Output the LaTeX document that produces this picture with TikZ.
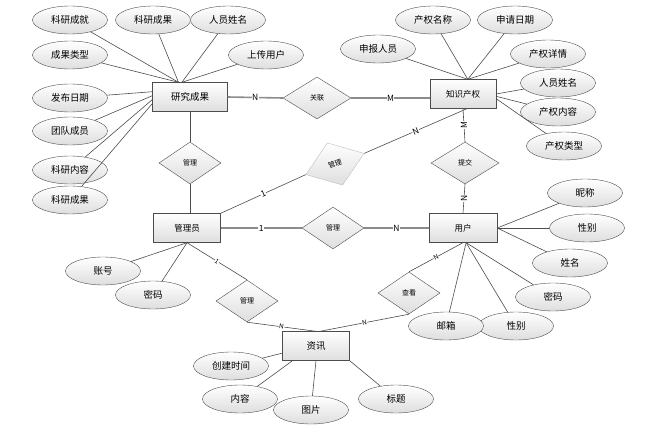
\documentclass[tikz,border=0pt]{standalone}
\usepackage{fontspec}
\setmainfont{Noto Sans CJK SC}
\usetikzlibrary{shapes.geometric}

\begin{document}
\begin{tikzpicture}[x=1pt, y=-1pt,
    entity/.style={draw=black!70, rectangle, minimum width=67pt, minimum height=29pt, inner sep=0pt, top color=white, bottom color=black!13, font=\fontsize{8.5}{10}\selectfont},
    attr/.style={draw=black!70, ellipse, minimum width=75pt, minimum height=28pt, inner sep=0pt, top color=white, bottom color=black!13, font=\fontsize{9.5}{11}\selectfont},
    rel/.style={draw=black!70, diamond, minimum width=62pt, minimum height=42pt, inner sep=0pt, top color=white, bottom color=black!13, font=\fontsize{7}{8}\selectfont},
    conn/.style={draw=black!70, line width=0.6pt},
    heavy/.style={draw=black!45, line width=1.6pt},
    card/.style={fill=white, inner sep=0.5pt, font=\fontsize{8.5}{9}\selectfont},
    smallcard/.style={fill=white, inner sep=0.3pt, font=\fontsize{6.5}{7}\selectfont}]

    \useasboundingbox (0,0) rectangle (657,431);

    % Entities
    \node[entity, minimum width=75pt, font=\fontsize{9.5}{11}\selectfont] (res) at (190,97) {研究成果};
    \node[entity, minimum width=66pt] (ip) at (463,94) {知识产权};
    \node[entity] (admin) at (187,228) {管理员};
    \node[entity, minimum width=68pt] (user) at (463,228) {用户};
    \node[entity, font=\fontsize{9.5}{11}\selectfont] (news) at (316,346) {资讯};

    % Relationships
    \node[rel, minimum width=68pt] (relLink) at (317,98) {关联};
    \node[rel] (relManRes) at (190,163) {管理};
    \node[rel, draw=black!25, minimum height=45pt, rotate=20] (relManIp) at (335,164) {管理};
    \node[rel, minimum width=68pt] (relSubmit) at (465,163) {提交};
    \node[rel] (relManUser) at (333,228) {管理};
    \node[rel] (relManNews) at (247,301) {管理};
    \node[rel] (relView) at (409,293) {查看};

    % Attributes of 研究成果
    \foreach \n/\x/\y/\t in {a1/70/20/科研成就, a2/153/20/科研成果, a3/228/20/人员姓名,
        a4/70/55/成果类型, a5/266/55/上传用户, a6/70/98/发布日期, a7/70/131/团队成员,
        a8/70/170/科研内容, a9/70/200/科研成果} {
        \node[attr] (\n) at (\x,\y) {\t};
    }
    % Attributes of 知识产权
    \foreach \n/\x/\y/\t in {b1/433/20/产权名称, b2/515/20/申请日期, b3/378/49/申报人员,
        b4/548/54/产权详情, b5/558/83/人员姓名, b6/558/112/产权内容, b7/564/146/产权类型} {
        \node[attr] (\n) at (\x,\y) {\t};
    }
    % Attributes of 用户
    \foreach \n/\x/\y/\t in {c1/585/193/昵称, c2/587/228/性别, c3/570/263/姓名,
        c4/553/297/密码, c6/516/326/性别, c5/446/326/邮箱} {
        \node[attr] (\n) at (\x,\y) {\t};
    }
    % Attributes of 管理员 and 资讯
    \foreach \n/\x/\y/\t in {d1/103/271/账号, d2/153/295/密码,
        e1/231/366/创建时间, e2/240/399/内容, e3/311/410/图片, e4/396/399/标题} {
        \node[attr] (\n) at (\x,\y) {\t};
    }

    % Attribute links
    \foreach \n in {a1, a2, a4} \draw[conn] (\n) -- (res.128);
    \foreach \n in {a3, a5} \draw[conn] (\n) -- (res.119);
    \draw[conn] (a6) -- (res.172);
    \draw[conn] (a7) -- (res.178);
    \draw[conn] (a8) -- (res.184);
    \draw[conn] (a9) -- (res.190);
    \foreach \n in {b1, b2, b3, b4} \draw[conn] (\n) -- (ip.72);
    \draw[conn] (b5) -- (ip.east);
    \draw[conn] (b6) -- (ip.356);
    \draw[conn] (b7) -- (ip.352);
    \foreach \n in {c1, c2, c3} \draw[conn] (\n) -- (user.east);
    \foreach \n in {c4, c5, c6} \draw[conn] (\n) -- (user.282);
    \foreach \n in {d1, d2} \draw[conn] (\n) -- (admin.south);
    \draw[conn] (e1) -- (news.192);
    \draw[conn] (e2) -- (news.212);
    \draw[conn] (e3) -- (news.south);
    \draw[conn] (e4) -- (news.south east);

    % Relationship links
    \draw[heavy] (res.east) -- node[card] {N} (relLink.west);
    \draw[heavy] (relLink.east) -- node[card] {M} (relLink.east -| ip.west);
    \draw[conn] (res.south) -- (relManRes.north);
    \draw[conn] (relManRes.south) -- (relManRes.south |- admin.north);
    \draw[conn] (admin.north east) -- node[card, sloped] {1} (relManIp.west);
    \draw[conn] (relManIp.east) -- node[card, sloped] {N} (ip.285);
    \draw[conn] (ip.south) -- node[card, rotate=90] {M} (relSubmit.north);
    \draw[conn] (relSubmit.south) -- node[card, rotate=90] {N} (user.north);
    \draw[heavy] (admin.east) -- node[card] {1} (relManUser.west);
    \draw[heavy] (relManUser.east) -- node[card] {N} (user.west);
    \draw[conn] (admin.south) -- node[smallcard, sloped] {1} (relManNews.north);
    \draw[conn] (relManNews.south) -- node[smallcard, sloped] {N} (news.north);
    \draw[conn] (relView.north) -- node[smallcard, sloped] {N} (user.south);
    \draw[conn] (relView.south) -- node[smallcard, sloped] {N} (news.75);

\end{tikzpicture}
\end{document}
